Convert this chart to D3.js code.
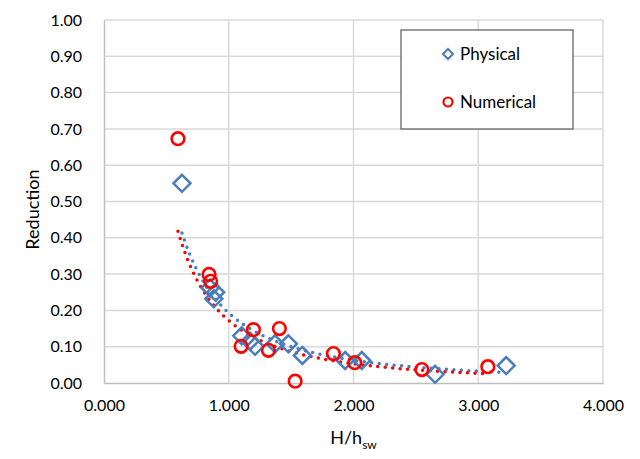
<!DOCTYPE html>
<html>
<head>
<meta charset="utf-8">
<script src="https://cdn.jsdelivr.net/npm/d3@7"></script>
<style>
  body { margin: 0; background: #fff; }
  svg { font-family: Lato, "Open Sans", sans-serif; }
</style>
</head>
<body>
<script>
// Data
const physicalX = [0.625, 0.850, 0.895, 0.880, 1.104, 1.170, 1.211, 1.371, 1.478, 1.590, 1.933, 2.066, 2.654, 3.224];
const physicalY = [0.550, 0.262, 0.250, 0.232, 0.130, 0.115, 0.101, 0.108, 0.108, 0.076, 0.062, 0.062, 0.024, 0.048];
const numericalX = [0.593, 0.842, 0.855, 1.099, 1.198, 1.318, 1.406, 1.532, 1.839, 2.010, 2.548, 3.077];
const numericalY = [0.673, 0.299, 0.280, 0.101, 0.147, 0.090, 0.150, 0.005, 0.081, 0.056, 0.037, 0.045];
// power trendlines y = a * x^b
const physicalTrend = [0.193, -1.62];
const numericalTrend = [0.172, -1.70];
const xTicks = [0, 1, 2, 3, 4];
const yTicks = [0, 0.1, 0.2, 0.3, 0.4, 0.5, 0.6, 0.7, 0.8, 0.9, 1.0];

const W = 640, H = 459;
const margin = { left: 104, right: 37, top: 20, bottom: 76 };
const blue = "#4a7ebb", red = "#ff0000";

const svg = d3.select("body").append("svg").attr("width", W).attr("height", H);

const x = d3.scaleLinear().domain([0, 4]).range([margin.left, W - margin.right]);
const y = d3.scaleLinear().domain([0, 1]).range([H - margin.bottom, margin.top]);

// gridlines
svg.append("g").selectAll("line").data(yTicks.slice(1)).enter().append("line")
  .attr("x1", x(0)).attr("x2", x(4))
  .attr("y1", d => y(d)).attr("y2", d => y(d))
  .attr("stroke", "#d9d9d9").attr("stroke-width", 1.5);
svg.append("g").selectAll("line").data(xTicks.slice(1)).enter().append("line")
  .attr("x1", d => x(d)).attr("x2", d => x(d))
  .attr("y1", y(0)).attr("y2", y(1))
  .attr("stroke", "#d9d9d9").attr("stroke-width", 1.5);

// axes
const xAxis = svg.append("g").attr("transform", `translate(0,${y(0)})`)
  .call(d3.axisBottom(x).tickValues(xTicks).tickFormat(d3.format(".3f")).tickSize(0).tickPadding(17));
const yAxis = svg.append("g").attr("transform", `translate(${x(0)},0)`)
  .call(d3.axisLeft(y).tickValues(yTicks).tickFormat(d3.format(".2f")).tickSize(0).tickPadding(22));
[xAxis, yAxis].forEach(g => {
  g.select(".domain").attr("stroke", "#bfbfbf").attr("stroke-width", 1.5);
  g.selectAll("text").attr("font-size", 16).attr("fill", "#000").attr("font-family", "Lato, sans-serif");
});

// trendlines
function trendPath(xs, coef) {
  const pts = [];
  const lo = d3.min(xs), hi = d3.max(xs);
  for (let i = 0; i <= 100; i++) {
    const xv = lo + (hi - lo) * i / 100;
    pts.push([xv, coef[0] * Math.pow(xv, coef[1])]);
  }
  return d3.line().x(d => x(d[0])).y(d => y(d[1]))(pts);
}
svg.append("path").attr("d", trendPath(physicalX, physicalTrend))
  .attr("fill", "none").attr("stroke", blue).attr("stroke-width", 3.5)
  .attr("stroke-linecap", "round").attr("stroke-dasharray", "0 7.5");
svg.append("path").attr("d", trendPath(numericalX, numericalTrend))
  .attr("fill", "none").attr("stroke", red).attr("stroke-width", 3.5)
  .attr("stroke-linecap", "round").attr("stroke-dasharray", "0 7.5");

// markers
const diamond = s => `M0,${-s}L${s},0L0,${s}L${-s},0Z`;
svg.append("g").selectAll("path").data(physicalX.map((d, i) => [d, physicalY[i]])).enter()
  .append("path")
  .attr("transform", d => `translate(${x(d[0])},${y(d[1])})`)
  .attr("d", diamond(8.5))
  .attr("fill", "none").attr("stroke", blue).attr("stroke-width", 2.5);
svg.append("g").selectAll("circle").data(numericalX.map((d, i) => [d, numericalY[i]])).enter()
  .append("circle")
  .attr("cx", d => x(d[0])).attr("cy", d => y(d[1])).attr("r", 6.3)
  .attr("fill", "none").attr("stroke", red).attr("stroke-width", 2.6);

// axis titles
svg.append("text").attr("x", x(2)).attr("y", 444).attr("text-anchor", "middle")
  .attr("font-size", 18)
  .call(t => {
    t.append("tspan").text("H/h");
    t.append("tspan").text("sw").attr("font-size", 12).attr("dy", 5);
  });
svg.append("text").attr("transform", `translate(39,${(y(0) + y(1)) / 2 + 8}) rotate(-90)`)
  .attr("text-anchor", "middle").attr("font-size", 18).text("Reduction");

// legend
const lg = svg.append("g").attr("transform", "translate(401,30)");
lg.append("rect").attr("width", 172).attr("height", 99)
  .attr("fill", "#fff").attr("stroke", "#595959").attr("stroke-width", 1.2);
lg.append("path").attr("transform", "translate(47,24)").attr("d", diamond(5))
  .attr("fill", "none").attr("stroke", blue).attr("stroke-width", 2);
lg.append("text").attr("x", 59).attr("y", 30).attr("font-size", 17).text("Physical");
lg.append("circle").attr("cx", 47).attr("cy", 72).attr("r", 4.5)
  .attr("fill", "none").attr("stroke", red).attr("stroke-width", 2.2);
lg.append("text").attr("x", 59).attr("y", 78).attr("font-size", 17).text("Numerical");
</script>
</body>
</html>
